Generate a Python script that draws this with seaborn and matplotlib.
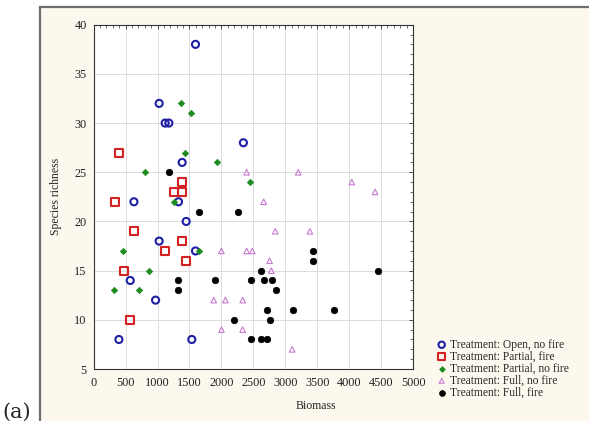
import matplotlib
matplotlib.use("Agg")
import matplotlib.pyplot as plt
from matplotlib.patches import Rectangle
from matplotlib.ticker import MultipleLocator
import seaborn as sns
import pandas as pd

# ---- data ----
open_nofire_x = [1594, 1025, 1119, 1177, 2344, 1385, 630, 1328, 1448, 1025, 1594, 572, 969, 395, 1536]
open_nofire_y = [38, 32, 30, 30, 28, 26, 22, 22, 20, 18, 17, 14, 12, 8, 8]

partial_fire_x = [395, 1385, 1260, 1385, 328, 635, 1385, 1119, 1448, 478, 572]
partial_fire_y = [27, 24, 23, 23, 22, 19, 18, 17, 16, 15, 10]

partial_nofire_x = [1364, 1520, 1432, 1937, 802, 2448, 1250, 463, 1645, 859, 317, 708]
partial_nofire_y = [32, 31, 27, 26, 25, 24, 22, 17, 17, 15, 13, 13]

full_nofire_x = [2395, 3203, 4041, 4406, 2661, 2843, 3385, 2000, 2395, 2484, 2755, 2781,
                 1880, 2062, 2333, 2000, 2333, 3109]
full_nofire_y = [25, 25, 24, 23, 22, 19, 19, 17, 17, 17, 16, 15, 12, 12, 12, 9, 9, 7]

full_fire_x = [1172, 1656, 2255, 3427, 3427, 2619, 4447, 1322, 1895, 2463, 2672, 2797,
               1322, 2859, 2708, 3125, 3760, 2192, 2766, 2463, 2619, 2708]
full_fire_y = [25, 21, 21, 17, 16, 15, 15, 14, 14, 14, 14, 14, 13, 13, 11, 11, 11, 10,
               10, 8, 8, 8]

labels = ["Treatment: Open, no fire", "Treatment: Partial, fire",
          "Treatment: Partial, no fire", "Treatment: Full, no fire",
          "Treatment: Full, fire"]

x_ticks = [0, 500, 1000, 1500, 2000, 2500, 3000, 3500, 4000, 4500, 5000]
y_ticks = [5, 10, 15, 20, 25, 30, 35, 40]

sns.set_style("white")
plt.rcParams['font.family'] = ['Liberation Serif', 'DejaVu Serif']

fig = plt.figure(figsize=(5.89, 4.21), dpi=100)
fig.patch.set_facecolor("white")

# framed cream panel
frame = Rectangle((40 / 589, -0.05), 1.2, 1.05 - 7.5 / 421, transform=fig.transFigure,
                  facecolor="#fdf8ee", edgecolor="#6e6e6e", linewidth=1.6, zorder=-10)
fig.patches.append(frame)
fig.text(2 / 589, 9 / 421, "(a)", fontsize=15, ha="left", va="center",
         family=['DejaVu Serif'])

ax = fig.add_axes([93.7 / 589, (421 - 369) / 421, (413 - 93.7) / 589, (369 - 24.7) / 421])
ax.set_facecolor("white")

series = [
    (open_nofire_x, open_nofire_y, dict(marker="o", s=26, facecolors="none",
                                         edgecolors="#1f1fa6", linewidths=1.5)),
    (partial_fire_x, partial_fire_y, dict(marker="s", s=32, facecolors="none",
                                           edgecolors="#d42222", linewidths=1.5)),
    (partial_nofire_x, partial_nofire_y, dict(marker="D", s=10, color="#1e8c1e",
                                               edgecolor="#1e8c1e", linewidths=0.6)),
    (full_nofire_x, full_nofire_y, dict(marker="^", s=16, facecolors="none",
                                         edgecolors="#c77ad0", linewidths=0.8)),
    (full_fire_x, full_fire_y, dict(marker="o", s=22, color="black", edgecolor="black",
                                     linewidths=0.5)),
]
for (xs, ys, kw), lab in zip(series, labels):
    df = pd.DataFrame({"Biomass": xs, "Species richness": ys})
    sns.scatterplot(data=df, x="Biomass", y="Species richness", ax=ax, label=lab,
                    zorder=3, **kw)

ax.set_xlim(0, 5000)
ax.set_ylim(5, 40)
ax.set_xticks(x_ticks)
ax.set_yticks(y_ticks)
ax.xaxis.set_minor_locator(MultipleLocator(100))
ax.yaxis.set_minor_locator(MultipleLocator(1))
ax.tick_params(which="both", direction="in", top=True, right=True, labelsize=8.8,
               colors="#333333", labelcolor="#222222")
ax.tick_params(which="major", length=3, width=0.6)
ax.tick_params(which="minor", length=2, width=0.5)
ax.tick_params(axis="x", which="major", pad=6)
ax.tick_params(axis="y", which="major", pad=5)
ax.grid(True, which="major", color="#dcdcdc", linewidth=0.7)
for sp in ax.spines.values():
    sp.set_color("#333333")
    sp.set_linewidth(0.8)

ax.set_xlabel("Biomass", fontsize=8.5)
ax.xaxis.set_label_coords((316 - 93.7) / 319.3, (369 - 406) / 344.3)
ax.xaxis.label.set_va("center")
ax.set_ylabel("Species richness", fontsize=8.5, labelpad=9)

handles, labs = ax.get_legend_handles_labels()
ax.get_legend().remove()
fig.legend(handles, labs, loc="upper left", bbox_to_anchor=(429 / 589, 1 - 333 / 421),
           frameon=False, fontsize=8.3, handletextpad=0.1, labelspacing=0.0,
           borderpad=0, handlelength=1.2, markerscale=0.9)

fig.savefig("out.png", dpi=100, facecolor=fig.get_facecolor())
